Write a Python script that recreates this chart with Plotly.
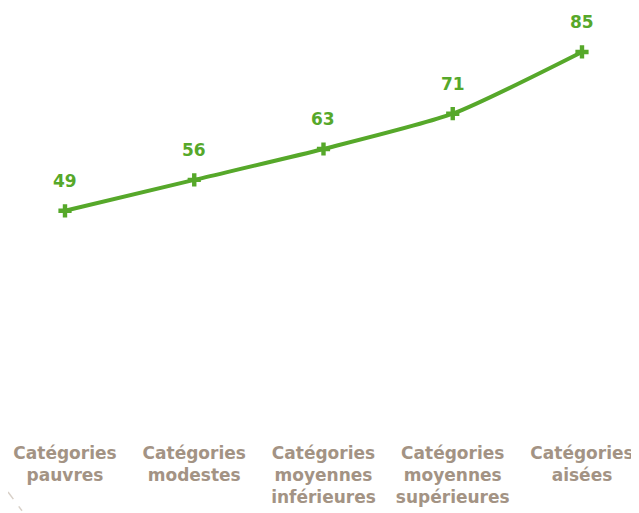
import plotly.graph_objects as go

categories = ["Catégories<br>pauvres", "Catégories<br>modestes", "Catégories<br>moyennes<br>inférieures",
              "Catégories<br>moyennes<br>supérieures", "Catégories<br>aisées"]
values = [49, 56, 63, 71, 85]

green = "#56a82a"
label_color = "#a39384"

fig = go.Figure()
fig.add_trace(go.Scatter(
    x=categories,
    y=values,
    mode="lines+markers",
    line=dict(color=green, width=4, shape="spline", smoothing=0.6),
    marker=dict(symbol="cross", size=11, color=green),
    hoverinfo="skip",
))

# value labels above points
for c, v in zip(categories, values):
    fig.add_annotation(x=c, y=v, text="<b>%d</b>" % v, showarrow=False, yshift=30,
                       font=dict(color=green, size=17, family="DejaVu Sans"))

# faint dashed decoration in the bottom-left corner
fig.add_shape(type="line", xref="paper", yref="paper",
              x0=0, y0=-0.155, x1=14 / 639, y1=-0.2,
              line=dict(color="#d8d0c8", width=1.5, dash="dash"))

fig.update_layout(
    width=639,
    height=513,
    margin=dict(l=0, r=0, t=0, b=94),
    plot_bgcolor="white",
    paper_bgcolor="white",
    showlegend=False,
    xaxis=dict(
        range=[-0.441, 4.503],
        automargin=False,
        showgrid=False,
        zeroline=False,
        showline=False,
        ticks="",
        ticklabelstandoff=14,
        tickfont=dict(color=label_color, size=17, family="DejaVu Sans", weight="bold"),
    ),
    yaxis=dict(range=[0, 94.96], visible=False, automargin=False),
)

fig.write_html("out.html")
